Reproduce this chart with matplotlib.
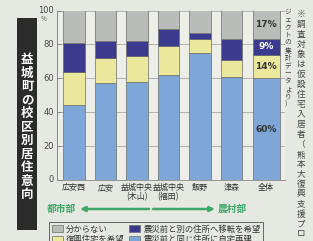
import matplotlib.pyplot as plt
from matplotlib.patches import Rectangle, Patch
from matplotlib.transforms import blended_transform_factory
import numpy as np

plt.rcParams['font.family'] = ['Noto Sans CJK JP', 'DejaVu Sans']

schools = ['広安西', '広安', '益城中央\n(木山)', '益城中央\n(福田)', '飯野', '津森', '全体']
rebuild = [44, 57, 58, 62, 75, 61, 60]     # 震災前と同じ住所に自宅再建
public = [20, 15, 15, 17, 8, 10, 14]       # 復興住宅を希望
move = [17, 10, 9, 10, 4, 12, 9]           # 震災前と別の住所へ移転を希望
unknown = [19, 18, 18, 11, 13, 17, 17]     # 分からない
yticks = [0, 20, 40, 60, 80, 100]

c_blue = '#7ea6d6'
c_yellow = '#ebe79c'
c_navy = '#3b3a8e'
c_gray = '#b9bcb8'
bg = '#e6e9e1'

fig = plt.figure(figsize=(3.13, 2.41), dpi=100, facecolor=bg)

# title box on the left
fig.add_artist(Rectangle((17 / 313, 1 - 230 / 241), 20 / 313, 212 / 241,
                         transform=fig.transFigure, facecolor='#2b2b2b',
                         edgecolor='none', zorder=-1))

ax = fig.add_axes([57 / 313, 1 - 180 / 241, 228 / 313, 169.5 / 241])
ax.set_facecolor('#eceee7')

x = np.arange(len(schools), dtype=float)
x[-1] += 0.1
widths = [0.68] * 6 + [0.86]

bottom = np.zeros(len(schools))
segs = [(rebuild, c_blue), (public, c_yellow), (move, c_navy), (unknown, c_gray)]
for vals, col in segs:
    ax.bar(x, vals, width=widths, bottom=bottom, color=col,
           edgecolor='#6a6e6a', linewidth=0.5, zorder=2)
    bottom += np.array(vals)

# percentages on the total bar
b = 0
for (vals, col) in segs:
    v = vals[-1]
    tc = 'white' if col == c_navy else '#333333'
    ax.text(x[-1], b + v / 2, f'{v}%', ha='center', va='center',
            fontsize=6.5, fontweight='bold', color=tc, zorder=3,
            family=['DejaVu Sans'])
    b += v

ax.set_xlim(-0.54, 6.7)
ax.set_ylim(0, 100)
ax.set_yticks(yticks)
ax.tick_params(axis='y', direction='in', length=3, width=0.6, color='#777777',
               labelleft=False)
ytr = blended_transform_factory(fig.transFigure, ax.transData)
for t in yticks:
    fig.text(54 / 313, t, str(t), transform=ytr, ha='right', va='center',
             fontsize=6, color='#4a4a4a', zorder=10, family=['DejaVu Sans'])
ax.grid(axis='y', color='#aaaaaa', linewidth=0.6, zorder=1)
ax.set_xticks(x, labels=schools)
ax.tick_params(axis='x', length=0, pad=2, labelsize=5.8, labelcolor='#333333')
for lab in ax.get_xticklabels():
    lab.set_linespacing(1.0)
for s in ['top', 'right']:
    ax.spines[s].set_visible(False)
ax.spines['left'].set_color('#777777')
ax.spines['left'].set_linewidth(0.6)
ax.spines['bottom'].set_color('#888888')
ax.spines['bottom'].set_linewidth(0.6)
ax.text(-0.045, 0.95, '%', transform=ax.transAxes, fontsize=4.5, color='#555555',
        ha='right', va='center')

fig.text(27 / 313, 1 - 127 / 241, '\n'.join('益城町の校区別居住意向'),
         color='white', fontsize=9, fontweight='bold', ha='center',
         va='center', linespacing=1.05)

# urban / rural arrow row
green = '#3fa86a'
ya = 1 - 209 / 241
fig.text(47 / 313, ya, '都市部', color=green, fontsize=7, fontweight='bold',
         ha='left', va='center')
fig.text(218 / 313, ya, '農村部', color=green, fontsize=7, fontweight='bold',
         ha='left', va='center')
fig.add_artist(plt.Annotation('', xy=(80 / 313, ya), xytext=(149 / 313, ya),
                              xycoords='figure fraction', textcoords='figure fraction',
                              arrowprops=dict(arrowstyle='-|>', color=green, lw=1.8,
                                              mutation_scale=7, shrinkA=0, shrinkB=0)))
fig.add_artist(plt.Annotation('', xy=(215 / 313, ya), xytext=(153 / 313, ya),
                              xycoords='figure fraction', textcoords='figure fraction',
                              arrowprops=dict(arrowstyle='-|>', color=green, lw=1.8,
                                              mutation_scale=7, shrinkA=0, shrinkB=0)))

# legend
handles = [Patch(facecolor=c_gray, edgecolor='#6a6e6a', linewidth=0.5),
           Patch(facecolor=c_yellow, edgecolor='#6a6e6a', linewidth=0.5),
           Patch(facecolor=c_navy, edgecolor='#6a6e6a', linewidth=0.5),
           Patch(facecolor=c_blue, edgecolor='#6a6e6a', linewidth=0.5)]
labels = ['分からない', '復興住宅を希望', '震災前と別の住所へ移転を希望', '震災前と同じ住所に自宅再建']
leg = fig.legend(handles, labels, ncol=2, loc='upper left',
                 bbox_to_anchor=(45 / 313, 1 - 218 / 241), fontsize=6,
                 frameon=True, fancybox=False, edgecolor='#444444',
                 facecolor=bg, borderpad=0.3, handlelength=1.3,
                 handleheight=0.9, handletextpad=0.4, columnspacing=0.6,
                 labelspacing=0.15, labelcolor='#333333')
leg.get_frame().set_linewidth(0.7)

# source note on the right (vertical)
fig.text(301 / 313, 1 - 10 / 241, '\n'.join('※調査対象は仮設住宅入居者（熊本大復興支援プロ'),
         color='#444444', fontsize=6.2, ha='center', va='top', linespacing=1.14)
fig.text(288 / 313, 1 - 8 / 241, '\n'.join('ジェクトの集計データより）'),
         color='#444444', fontsize=4.8, ha='center', va='top', linespacing=0.95)

fig.savefig('out.png', dpi=100, facecolor=bg)
